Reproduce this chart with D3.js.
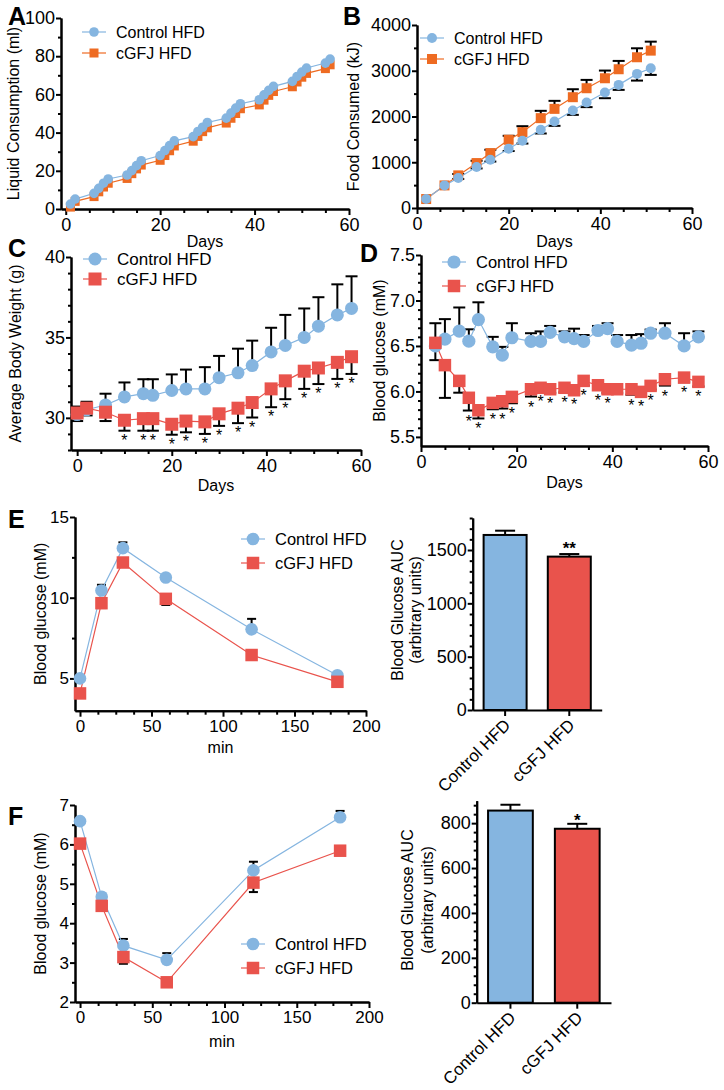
<!DOCTYPE html>
<html>
<head>
<meta charset="utf-8">
<script src="https://cdn.jsdelivr.net/npm/d3@7"></script>
<style>
  body { margin: 0; background: #fff; }
  svg { display: block; font-family: "Liberation Sans", Arial, Helvetica, sans-serif; }
</style>
</head>
<body>
<svg id="fig" width="724" height="1090"></svg>
<script>
// ---- data ----
const groups = ["Control HFD", "cGFJ HFD"];

// A: liquid consumption
const daysA = [1,2,6,7,8,9,13,14,15,16,20,21,22,23,27,28,29,30,34,35,36,37,41,42,43,44,48,49,50,51,55,56];
const liquidControl = [2.6,5.2,8.2,10.8,13.5,15.7,17.8,20.1,22.7,25.3,28,30.6,33.2,35.7,37.9,40.6,42.8,45.3,47.6,50.2,52.8,55.1,57.2,59.8,62.1,64.2,66.8,69.4,71.7,73.8,76.4,78.5];
const liquidCGFJ = [1,4,6.5,9,11.5,13.5,16,18.5,21,23,25.5,28,30.5,33,35.5,38,40.5,42.5,45,47.5,50,52.5,54.5,57,59.5,61.5,64,66.5,69,71,73.5,75.5];

// B: food consumed
const daysB = [2,6,9,13,16,20,23,27,30,34,37,41,44,48,51];
const foodControl = [196,494,655,895,1055,1295,1469,1709,1891,2131,2305,2524,2691,2931,3055];
const foodControlErr = [0,0,20,30,40,50,60,80,95,95,100,124,109,146,146];
const foodCGFJ = [196,494,713,982,1200,1491,1658,1964,2167,2422,2618,2836,3033,3295,3440];
const foodCGFJErr = [0,0,30,50,73,87,130,160,175,174,182,168,182,196,196];

// C: body weight
const daysC = [0,2,6,10,14,16,20,23,27,30,34,37,41,44,48,51,55,58];
const weightControl = [30.2,30.5,30.8,31.3,31.5,31.4,31.7,31.8,31.8,32.5,32.8,33.25,34.1,34.5,35.0,35.7,36.4,36.8];
const weightControlErr = [0.5,0.5,0.7,0.9,0.9,1.0,1.0,1.2,1.35,1.35,1.5,1.55,1.5,1.9,1.8,1.8,1.9,2.0];
const weightCGFJ = [30.3,30.6,30.35,29.85,29.95,29.95,29.6,29.8,29.75,30.25,30.6,30.95,31.8,32.3,32.9,33.1,33.45,33.8];
const weightCGFJErr = [0.5,0.45,0.55,0.65,0.75,0.75,0.65,0.7,0.75,0.75,0.93,0.93,1.14,1.14,1.1,1.0,1.03,1.07];
const weightStars = [0,0,0,1,1,1,1,1,1,1,1,1,1,1,1,1,1,1];

// D: blood glucose over days
const daysD = [3,5,8,10,12,15,17,19,23,25,27,30,32,34,37,39,41,44,46,48,51,55,58];
const glucoseControl = [6.5,6.575,6.663,6.553,6.79,6.49,6.4,6.59,6.55,6.55,6.65,6.6,6.58,6.55,6.67,6.69,6.55,6.51,6.53,6.64,6.64,6.5,6.6];
const glucoseControlErr = [0.25,0.22,0.26,0.13,0.19,0.11,0.09,0.16,0.09,0.11,0.07,0.06,0.11,0.07,0.05,0.06,0.07,0.11,0.1,0.04,0.11,0.14,0.06];
const glucoseCGFJ = [6.534,6.289,6.116,5.93,5.793,5.874,5.892,5.94,6.024,6.04,6.024,6.04,6.013,6.116,6.068,6.024,6.024,6.024,5.995,6.061,6.134,6.152,6.105];
const glucoseCGFJErr = [0.19,0.36,0.13,0.14,0.09,0.07,0.08,0.07,0.08,0.04,0.04,0.05,0.04,0.05,0.05,0.04,0.04,0.06,0.05,0.04,0.07,0.05,0.05];
const glucoseStars = [0,0,0,1,1,1,1,1,1,1,1,1,1,1,1,1,0,1,1,1,1,1,1];

// E: glucose tolerance
const minutes = [0,15,30,60,120,180];
const gttControl = [5.0,10.45,13.07,11.25,8.04,5.2];
const gttControlErr = [0.1,0.35,0.36,0.1,0.65,0.05];
const gttCGFJ = [4.07,9.66,12.18,9.93,6.45,4.79];
const gttCGFJErr = [0.1,0.3,0.1,0.38,0.1,0.05];
const gttAUC = [1641,1438];
const gttAUCErr = [40,24];
const gttSig = ["", "**"];

// F: insulin tolerance
const ittControl = [6.59,4.67,3.43,3.07,5.34,6.69];
const ittControlErr = [0.05,0.05,0.17,0.17,0.22,0.16];
const ittCGFJ = [6.02,4.44,3.14,2.5,5.03,5.84];
const ittCGFJErr = [0.05,0.05,0.17,0.05,0.24,0.05];
const ittAUC = [856,775];
const ittAUCErr = [26,22];
const ittSig = ["", "*"];

// tick values
const dayTicks = [0,20,40,60];
const minTicks = [0,50,100,150,200];
const liquidTicks = [0,20,40,60,80,100];
const foodTicks = [0,1000,2000,3000,4000];
const weightTicks = [30,35,40];
const glucoseTicks = [5.5,6.0,6.5,7.0,7.5];
const gttTicks = [5,10,15];
const ittTicks = [2,3,4,5,6,7];
const gttAUCTicks = [0,500,1000,1500];
const ittAUCTicks = [0,200,400,600,800];

// ---- drawing ----
const FONT = "'Liberation Sans', Arial, Helvetica, sans-serif";
const BLUE = "#85b5e0", ORANGE = "#ee6b22", RED = "#e9534c";
const svg = d3.select("#fig");
svg.append("rect").attr("width", 724).attr("height", 1090).attr("fill", "#fff");

function styleAxis(sel, fs) {
  sel.attr("font-family", FONT).attr("font-size", fs);
  sel.selectAll("path.domain").attr("stroke", "#000").attr("stroke-width", 2);
  sel.selectAll(".tick line").attr("stroke", "#000").attr("stroke-width", 2);
  sel.selectAll("text").attr("fill", "#000");
}

function minorRange(a, b, step, majors) {
  return d3.range(a, b + step / 2, step)
    .map(v => +v.toFixed(4))
    .filter(v => !majors.some(m => Math.abs(m - v) < 1e-6));
}

function panelLetter(t, x, y) {
  svg.append("text").attr("x", x).attr("y", y).attr("font-family", FONT)
    .attr("font-size", 25).attr("font-weight", "bold").text(t);
}

function linePanel(o) {
  const g = svg.append("g");
  const x = d3.scaleLinear().domain(o.xDomain).range(o.xRange);
  const y = d3.scaleLinear().domain(o.yDomain).range(o.yRange);
  const axY = o.yRange[0], axX = o.xRange[0];

  g.append("g").attr("transform", `translate(0,${axY})`)
    .call(d3.axisBottom(x).tickValues(o.xMinor).tickSize(4).tickSizeOuter(0).tickFormat(""))
    .call(styleAxis, o.fs);
  g.append("g").attr("transform", `translate(0,${axY})`)
    .call(d3.axisBottom(x).tickValues(o.xTicks).tickSize(6).tickSizeOuter(0).tickPadding(3))
    .call(styleAxis, o.fs);
  g.append("g").attr("transform", `translate(${axX},0)`)
    .call(d3.axisLeft(y).tickValues(o.yMinor).tickSize(3).tickSizeOuter(0).tickFormat(""))
    .call(styleAxis, o.fs);
  g.append("g").attr("transform", `translate(${axX},0)`)
    .call(d3.axisLeft(y).tickValues(o.yTicks).tickSize(5).tickSizeOuter(0).tickPadding(1)
      .tickFormat(o.yFormat || d3.format("")))
    .call(styleAxis, o.fs);

  // axis titles
  g.append("text").attr("x", (o.xRange[0] + o.xRange[1]) / 2).attr("y", o.xTitleY)
    .attr("text-anchor", "middle").attr("font-family", FONT).attr("font-size", 16).text(o.xTitle);
  g.append("text")
    .attr("transform", `translate(${o.yTitleX},${(o.yRange[0] + o.yRange[1]) / 2}) rotate(-90)`)
    .attr("text-anchor", "middle").attr("font-family", FONT).attr("font-size", 16).text(o.yTitle);

  // error bars
  o.series.forEach(s => {
    s.xs.forEach((d, i) => {
      const e = s.errs ? s.errs[i] : 0;
      if (!e) return;
      const v = s.ys[i], end = v + s.dir * e;
      g.append("line").attr("x1", x(d)).attr("x2", x(d)).attr("y1", y(v)).attr("y2", y(end))
        .attr("stroke", "#000").attr("stroke-width", 2);
      g.append("line").attr("x1", x(d) - o.cap / 2).attr("x2", x(d) + o.cap / 2)
        .attr("y1", y(end)).attr("y2", y(end)).attr("stroke", "#000").attr("stroke-width", 2);
    });
  });

  // lines + markers
  o.series.forEach(s => {
    const pts = s.xs.map((d, i) => [d, s.ys[i]]);
    g.append("path").datum(pts)
      .attr("fill", "none").attr("stroke", s.color).attr("stroke-width", 1.2)
      .attr("d", d3.line().x(p => x(p[0])).y(p => y(p[1])));
  });
  o.series.forEach(s => {
    const pts = s.xs.map((d, i) => [d, s.ys[i]]);
    if (s.shape === "circle") {
      g.append("g").selectAll("circle").data(pts).join("circle")
        .attr("cx", p => x(p[0])).attr("cy", p => y(p[1])).attr("r", o.r).attr("fill", s.color);
    } else {
      g.append("g").selectAll("rect").data(pts).join("rect")
        .attr("x", p => x(p[0]) - o.sq / 2).attr("y", p => y(p[1]) - o.sq / 2)
        .attr("width", o.sq).attr("height", o.sq).attr("fill", s.color);
    }
    if (s.stars) {
      const ends = s.xs.map((d, i) => [d, s.ys[i] + s.dir * s.errs[i]]).filter((p, i) => s.stars[i]);
      g.append("g").selectAll("text").data(ends).join("text")
        .attr("x", p => x(p[0])).attr("y", p => y(p[1]) + o.starOffset)
        .attr("text-anchor", "middle").attr("font-family", FONT).attr("font-size", 16).text("*");
    }
  });

  // legend
  const lg = g.append("g").attr("transform", `translate(${o.legend[0]},${o.legend[1]})`);
  o.legendItems.forEach((s, i) => {
    const row = lg.append("g").attr("transform", `translate(0,${i * o.legendGap})`);
    row.append("line").attr("x1", -12).attr("x2", 12).attr("stroke", s.color).attr("stroke-width", 1.2);
    if (s.shape === "circle") row.append("circle").attr("r", o.r).attr("fill", s.color);
    else row.append("rect").attr("x", -o.sq / 2).attr("y", -o.sq / 2).attr("width", o.sq).attr("height", o.sq).attr("fill", s.color);
    row.append("text").attr("x", 22).attr("dy", "0.36em").attr("font-family", FONT)
      .attr("font-size", o.legendFs).text(s.label);
  });
}

function barPanel(o) {
  const g = svg.append("g");
  const x = d3.scaleBand().domain(groups).range(o.xRange).paddingInner(0.33).paddingOuter(0.17);
  const y = d3.scaleLinear().domain(o.yDomain).range(o.yRange);
  const colors = [BLUE, RED];

  // error bars (upward)
  groups.forEach((c, i) => {
    const cx = x(c) + x.bandwidth() / 2;
    const top = o.values[i] + o.errs[i];
    g.append("line").attr("x1", cx).attr("x2", cx).attr("y1", y(o.values[i])).attr("y2", y(top))
      .attr("stroke", "#000").attr("stroke-width", 2);
    g.append("line").attr("x1", cx - 10).attr("x2", cx + 10).attr("y1", y(top)).attr("y2", y(top))
      .attr("stroke", "#000").attr("stroke-width", 2);
    if (o.sig[i]) {
      g.append("text").attr("x", cx).attr("y", y(top) + o.sigOffset).attr("text-anchor", "middle")
        .attr("font-family", FONT).attr("font-size", 17).attr("font-weight", "bold").text(o.sig[i]);
    }
  });
  g.selectAll("rect.bar").data(groups).join("rect").attr("class", "bar")
    .attr("x", d => x(d)).attr("width", x.bandwidth())
    .attr("y", (d, i) => y(o.values[i])).attr("height", (d, i) => y(0) - y(o.values[i]))
    .attr("fill", (d, i) => colors[i]).attr("stroke", "#000").attr("stroke-width", 2);

  g.append("g").attr("transform", `translate(${o.xRange[0]},0)`)
    .call(d3.axisLeft(y).tickValues(o.yMinor).tickSize(3).tickSizeOuter(0).tickFormat(""))
    .call(styleAxis, 18);
  g.append("g").attr("transform", `translate(${o.xRange[0]},0)`)
    .call(d3.axisLeft(y).tickValues(o.yTicks).tickSize(5).tickSizeOuter(0).tickPadding(1)
      .tickFormat(d3.format("d")))
    .call(styleAxis, 18);
  const xa = g.append("g").attr("transform", `translate(0,${o.yRange[0]})`)
    .call(d3.axisBottom(x).tickSize(6).tickSizeOuter(0))
    .call(styleAxis, 17);
  xa.selectAll("text").attr("transform", "rotate(-45)").attr("text-anchor", "end")
    .attr("x", -7).attr("y", 10).attr("dy", "0.35em");

  const cy = o.titleY;
  g.append("text").attr("transform", `translate(${o.titleX[0]},${cy}) rotate(-90)`)
    .attr("text-anchor", "middle").attr("font-family", FONT).attr("font-size", 16).text("Blood Glucose AUC");
  g.append("text").attr("transform", `translate(${o.titleX[1]},${cy}) rotate(-90)`)
    .attr("text-anchor", "middle").attr("font-family", FONT).attr("font-size", 16).text("(arbitrary units)");
}

const legendAB = [
  { label: "Control HFD", color: BLUE, shape: "circle" },
  { label: "cGFJ HFD", color: ORANGE, shape: "square" }
];
const legendCF = [
  { label: "Control HFD", color: BLUE, shape: "circle" },
  { label: "cGFJ HFD", color: RED, shape: "square" }
];

// A
linePanel({
  xDomain: [-1, 60], xRange: [61, 349], yDomain: [0, 100], yRange: [209, 18],
  xTicks: dayTicks, xMinor: minorRange(0, 60, 5, dayTicks),
  yTicks: liquidTicks, yMinor: minorRange(0, 100, 10, liquidTicks),
  fs: 18, xTitle: "Days", xTitleY: 247, yTitle: "Liquid Consumption (ml)", yTitleX: 19,
  r: 4.8, sq: 9, cap: 10, starOffset: 15,
  series: [
    { xs: daysA, ys: liquidCGFJ, color: ORANGE, shape: "square" },
    { xs: daysA, ys: liquidControl, color: BLUE, shape: "circle" }
  ],
  legend: [94, 32], legendGap: 21, legendFs: 16, legendItems: legendAB
});
panelLetter("A", 8, 25);

// B
linePanel({
  xDomain: [0, 60], xRange: [417, 692], yDomain: [0, 4000], yRange: [208, 25],
  xTicks: dayTicks, xMinor: minorRange(0, 60, 5, dayTicks),
  yTicks: foodTicks, yMinor: minorRange(0, 4000, 500, foodTicks),
  fs: 18, xTitle: "Days", xTitleY: 247, yTitle: "Food Consumed (kJ)", yTitleX: 359,
  r: 5, sq: 10, cap: 12, starOffset: 15,
  series: [
    { xs: daysB, ys: foodCGFJ, errs: foodCGFJErr, dir: 1, color: ORANGE, shape: "square" },
    { xs: daysB, ys: foodControl, errs: foodControlErr, dir: -1, color: BLUE, shape: "circle" }
  ],
  legend: [432, 38], legendGap: 21, legendFs: 16, legendItems: legendAB
});
panelLetter("B", 343, 25);

// C
linePanel({
  xDomain: [-1.3, 60], xRange: [71, 361], yDomain: [28, 40], yRange: [450, 257],
  xTicks: dayTicks, xMinor: minorRange(0, 60, 5, dayTicks),
  yTicks: weightTicks, yMinor: minorRange(28, 40, 1, weightTicks),
  fs: 18, xTitle: "Days", xTitleY: 491, yTitle: "Average Body Weight (g)", yTitleX: 21,
  r: 6.5, sq: 13, cap: 12, starOffset: 15,
  series: [
    { xs: daysC, ys: weightControl, errs: weightControlErr, dir: 1, color: BLUE, shape: "circle" },
    { xs: daysC, ys: weightCGFJ, errs: weightCGFJErr, dir: -1, color: RED, shape: "square", stars: weightStars }
  ],
  legend: [95, 259], legendGap: 20, legendFs: 17, legendItems: legendCF
});
panelLetter("C", 8, 257);

// D
linePanel({
  xDomain: [0, 60], xRange: [421, 708], yDomain: [5.4, 7.5], yRange: [446, 255],
  xTicks: dayTicks, xMinor: minorRange(0, 60, 5, dayTicks),
  yTicks: glucoseTicks, yMinor: minorRange(5.5, 7.5, 0.1, glucoseTicks), yFormat: d3.format(".1f"),
  fs: 18, xTitle: "Days", xTitleY: 488, yTitle: "Blood glucose (mM)", yTitleX: 385,
  r: 6.6, sq: 12.5, cap: 12, starOffset: 16,
  series: [
    { xs: daysD, ys: glucoseControl, errs: glucoseControlErr, dir: 1, color: BLUE, shape: "circle" },
    { xs: daysD, ys: glucoseCGFJ, errs: glucoseCGFJErr, dir: -1, color: RED, shape: "square", stars: glucoseStars }
  ],
  legend: [454, 262], legendGap: 24, legendFs: 16.5, legendItems: legendCF
});
panelLetter("D", 360, 262);

// E
linePanel({
  xDomain: [-3.5, 200], xRange: [75, 366], yDomain: [3, 15], yRange: [710.7, 517],
  xTicks: minTicks, xMinor: minorRange(0, 200, 12.5, minTicks),
  yTicks: gttTicks, yMinor: [7.5, 12.5],
  fs: 17, xTitle: "min", xTitleY: 753, yTitle: "Blood glucose (mM)", yTitleX: 46,
  r: 6.3, sq: 12.5, cap: 9, starOffset: 15,
  series: [
    { xs: minutes, ys: gttControl, errs: gttControlErr, dir: 1, color: BLUE, shape: "circle" },
    { xs: minutes, ys: gttCGFJ, errs: gttCGFJErr, dir: -1, color: RED, shape: "square" }
  ],
  legend: [253, 539], legendGap: 24, legendFs: 16.5, legendItems: legendCF
});
panelLetter("E", 8, 528);

barPanel({
  xRange: [472.7, 601.7], yDomain: [0, 1800], yRange: [710, 518],
  yTicks: gttAUCTicks, yMinor: minorRange(0, 1800, 100, gttAUCTicks),
  values: gttAUC, errs: gttAUCErr, sig: gttSig, sigOffset: 0,
  titleX: [403, 421], titleY: 610
});

// F
linePanel({
  xDomain: [-3.5, 200], xRange: [75, 369], yDomain: [2, 7], yRange: [1002, 805],
  xTicks: minTicks, xMinor: minorRange(0, 200, 12.5, minTicks),
  yTicks: ittTicks, yMinor: minorRange(2, 7, 0.5, ittTicks),
  fs: 17, xTitle: "min", xTitleY: 1047, yTitle: "Blood glucose (mM)", yTitleX: 46,
  r: 6.3, sq: 12.5, cap: 9, starOffset: 15,
  series: [
    { xs: minutes, ys: ittControl, errs: ittControlErr, dir: 1, color: BLUE, shape: "circle" },
    { xs: minutes, ys: ittCGFJ, errs: ittCGFJErr, dir: -1, color: RED, shape: "square" }
  ],
  legend: [253, 944], legendGap: 24, legendFs: 16.5, legendItems: legendCF
});
panelLetter("F", 8, 825);

barPanel({
  xRange: [476.7, 611], yDomain: [0, 900], yRange: [1002.7, 800.7],
  yTicks: ittAUCTicks, yMinor: minorRange(0, 900, 40, ittAUCTicks),
  values: ittAUC, errs: ittAUCErr, sig: ittSig, sigOffset: 2,
  titleX: [413, 433], titleY: 900
});
</script>
</body>
</html>
